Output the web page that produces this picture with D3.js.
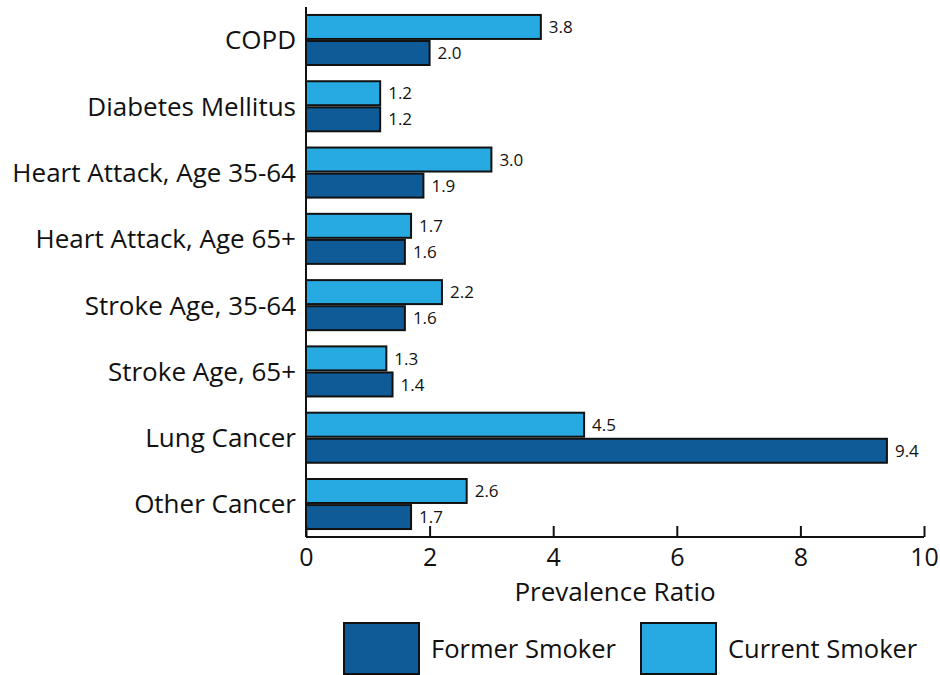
<!DOCTYPE html>
<html>
<head>
<meta charset="utf-8">
<script src="https://cdn.jsdelivr.net/npm/d3@7"></script>
<style>
  body { margin: 0; background: #fff; }
  svg { display: block; font-family: "Open Sans", "Noto Sans", sans-serif; }
</style>
</head>
<body>
<svg id="chart" width="940" height="675"></svg>
<script>
// Prevalence ratios by disease, former vs current smokers
const categories = ['COPD', 'Diabetes Mellitus', 'Heart Attack, Age 35-64', 'Heart Attack, Age 65+',
                    'Stroke Age, 35-64', 'Stroke Age, 65+', 'Lung Cancer', 'Other Cancer'];
const currentSmoker = [3.8, 1.2, 3.0, 1.7, 2.2, 1.3, 4.5, 2.6];
const formerSmoker = [2.0, 1.2, 1.9, 1.6, 1.6, 1.4, 9.4, 1.7];
const xTicks = [0, 2, 4, 6, 8, 10];

const seriesKeys = ['current', 'former'];
const seriesNames = { former: 'Former Smoker', current: 'Current Smoker' };
const colors = { former: '#0e5b98', current: '#27aae1' };

const rows = categories.map((c, i) => ({ name: c, current: currentSmoker[i], former: formerSmoker[i] }));

const svg = d3.select('#chart');
const plot = { left: 306, right: 924, top: 7, bottom: 537 };

const x = d3.scaleLinear().domain([0, 10]).range([plot.left, plot.right]);
const y = d3.scaleBand().domain(categories).range([plot.top, plot.bottom])
    .paddingInner(0.245).paddingOuter(0.12);
const ySub = d3.scaleBand().domain(seriesKeys).range([0, y.bandwidth()]).paddingInner(0.08);

// bars
const groups = svg.append('g')
    .selectAll('g')
    .data(rows)
    .enter()
    .append('g')
    .attr('transform', d => `translate(0, ${y(d.name)})`);

seriesKeys.forEach(key => {
    groups.append('rect')
        .attr('x', x(0))
        .attr('y', ySub(key))
        .attr('width', d => x(d[key]) - x(0))
        .attr('height', ySub.bandwidth())
        .attr('fill', colors[key])
        .attr('stroke', '#111')
        .attr('stroke-width', 2);

    groups.append('text')
        .attr('x', d => x(d[key]) + 8)
        .attr('y', ySub(key) + ySub.bandwidth() / 2)
        .attr('dy', '0.36em')
        .attr('font-size', '17px')
        .attr('fill', '#111')
        .text(d => d3.format('.1f')(d[key]));
});

// category labels
svg.append('g')
    .selectAll('text')
    .data(categories)
    .enter()
    .append('text')
    .attr('x', plot.left - 10)
    .attr('y', d => y(d) + y.bandwidth() / 2)
    .attr('dy', '0.36em')
    .attr('text-anchor', 'end')
    .attr('font-size', '26px')
    .attr('fill', '#111')
    .text(d => d);

// axes
svg.append('line')
    .attr('x1', plot.left).attr('x2', plot.left)
    .attr('y1', plot.top).attr('y2', plot.bottom)
    .attr('stroke', '#111').attr('stroke-width', 2);

const xAxis = d3.axisBottom(x).tickValues(xTicks).tickSize(-11).tickPadding(11).tickFormat(d3.format('d'));
const gx = svg.append('g')
    .attr('transform', `translate(0, ${plot.bottom})`)
    .call(xAxis);
gx.select('.domain').attr('stroke', '#111').attr('stroke-width', 2)
    .attr('d', `M${plot.left},0H${plot.right}`);
gx.selectAll('.tick line').attr('stroke', '#111').attr('stroke-width', 2);
gx.selectAll('.tick text')
    .attr('font-family', '"Open Sans", "Noto Sans", sans-serif')
    .attr('font-size', '25px')
    .attr('fill', '#111');

svg.append('text')
    .attr('x', (plot.left + plot.right) / 2)
    .attr('y', 601)
    .attr('text-anchor', 'middle')
    .attr('font-size', '26px')
    .attr('fill', '#111')
    .text('Prevalence Ratio');

// legend
const legend = [
    { key: 'former', x: 344 },
    { key: 'current', x: 641 }
];
const lg = svg.append('g')
    .selectAll('g')
    .data(legend)
    .enter()
    .append('g')
    .attr('transform', d => `translate(${d.x}, 623)`);
lg.append('rect')
    .attr('width', 75).attr('height', 51)
    .attr('fill', d => colors[d.key])
    .attr('stroke', '#111').attr('stroke-width', 2);
lg.append('text')
    .attr('x', 87).attr('y', 26)
    .attr('dy', '0.36em')
    .attr('font-size', '25.5px')
    .attr('fill', '#111')
    .text(d => seriesNames[d.key]);
</script>
</body>
</html>
